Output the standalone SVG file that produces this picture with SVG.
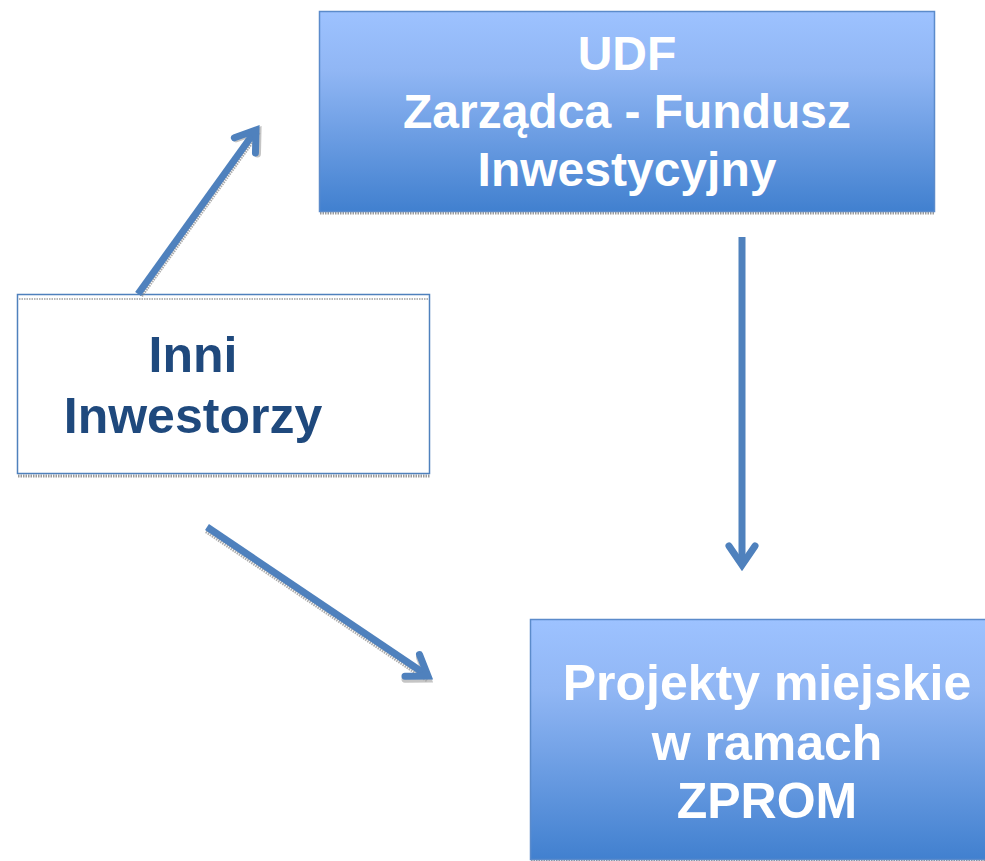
<svg xmlns="http://www.w3.org/2000/svg" width="985" height="861" viewBox="0 0 985 861">
<style>
.blue{fill:url(#g);stroke:#5b8bcb;stroke-width:1.5}
.white{fill:#ffffff;stroke:#4f81bd;stroke-width:1.5}
.shadow{fill:none;stroke:#9a9a9a;stroke-width:3;stroke-dasharray:1.5 1}
.tw{font-family:"Liberation Sans",Arial,sans-serif;font-weight:bold;fill:#ffffff;text-anchor:middle}
.td{font-family:"Liberation Sans",Arial,sans-serif;font-weight:bold;fill:#1f497d;text-anchor:middle;font-size:50px}
.conn{fill:none;stroke:#4f81bd;stroke-width:7;stroke-linecap:butt}
.csh{fill:none;stroke:#8a8a8a;stroke-width:7;stroke-dasharray:1.5 1;opacity:0.7}
</style>
<defs>
<linearGradient id="g" x1="0" y1="0" x2="0" y2="1">
<stop offset="0" stop-color="#9dc2ff"/>
<stop offset="0.3" stop-color="#90b6f4"/>
<stop offset="1" stop-color="#4180cf"/>
</linearGradient>
<marker id="ah" markerUnits="userSpaceOnUse" markerWidth="40" markerHeight="40" refX="0" refY="0" orient="auto" overflow="visible">
<path d="M -19,-13 L 0,0 L -19,13" fill="none" stroke="#4f81bd" stroke-width="7" stroke-linecap="round" stroke-linejoin="miter"/>
</marker>
<marker id="ahs" markerUnits="userSpaceOnUse" markerWidth="40" markerHeight="40" refX="0" refY="0" orient="auto" overflow="visible">
<path d="M -19,-13 L 0,0 L -19,13" fill="none" stroke="#8a8a8a" stroke-width="7" stroke-linecap="round" stroke-linejoin="miter" opacity="0.7"/>
</marker>
</defs>
<rect width="985" height="861" fill="#ffffff"/>

<g id="udf">
<line class="shadow" x1="320" y1="213" x2="935" y2="213"/>
<rect class="blue" x="319.5" y="11.5" width="615" height="200"/>
<text class="tw" font-size="48" x="627" y="70">UDF</text>
<text class="tw" font-size="48" x="627" y="128">Zarządca - Fundusz</text>
<text class="tw" font-size="48" x="627" y="186">Inwestycyjny</text>
</g>

<g id="inni">
<line class="shadow" x1="18" y1="476" x2="430" y2="476"/>
<rect class="white" x="17.5" y="294.5" width="412" height="179"/>
<line x1="19" y1="299" x2="428" y2="299" stroke="#a0a0a0" stroke-width="1.5" stroke-dasharray="1.5 1"/>
<text class="td" x="193" y="372">Inni</text>
<text class="td" x="193" y="433">Inwestorzy</text>
</g>

<g id="projekty">
<line class="shadow" x1="531" y1="861" x2="985" y2="861"/>
<rect class="blue" x="530.5" y="619.5" width="470" height="240"/>
<text class="tw" font-size="50" x="767" y="700">Projekty miejskie</text>
<text class="tw" font-size="50" x="767" y="760">w ramach</text>
<text class="tw" font-size="50" x="767" y="818">ZPROM</text>
</g>

<g id="connectors">
<line class="csh" x1="140" y1="295" x2="258" y2="131" marker-end="url(#ahs)"/>
<line class="csh" x1="207" y1="530" x2="428" y2="679" marker-end="url(#ahs)"/>
<line class="conn" x1="138" y1="294" x2="256" y2="130" marker-end="url(#ah)"/>
<line class="conn" x1="207" y1="527" x2="428" y2="676" marker-end="url(#ah)"/>
<line class="conn" x1="742" y1="237" x2="742" y2="565" marker-end="url(#ah)"/>
</g>
</svg>
